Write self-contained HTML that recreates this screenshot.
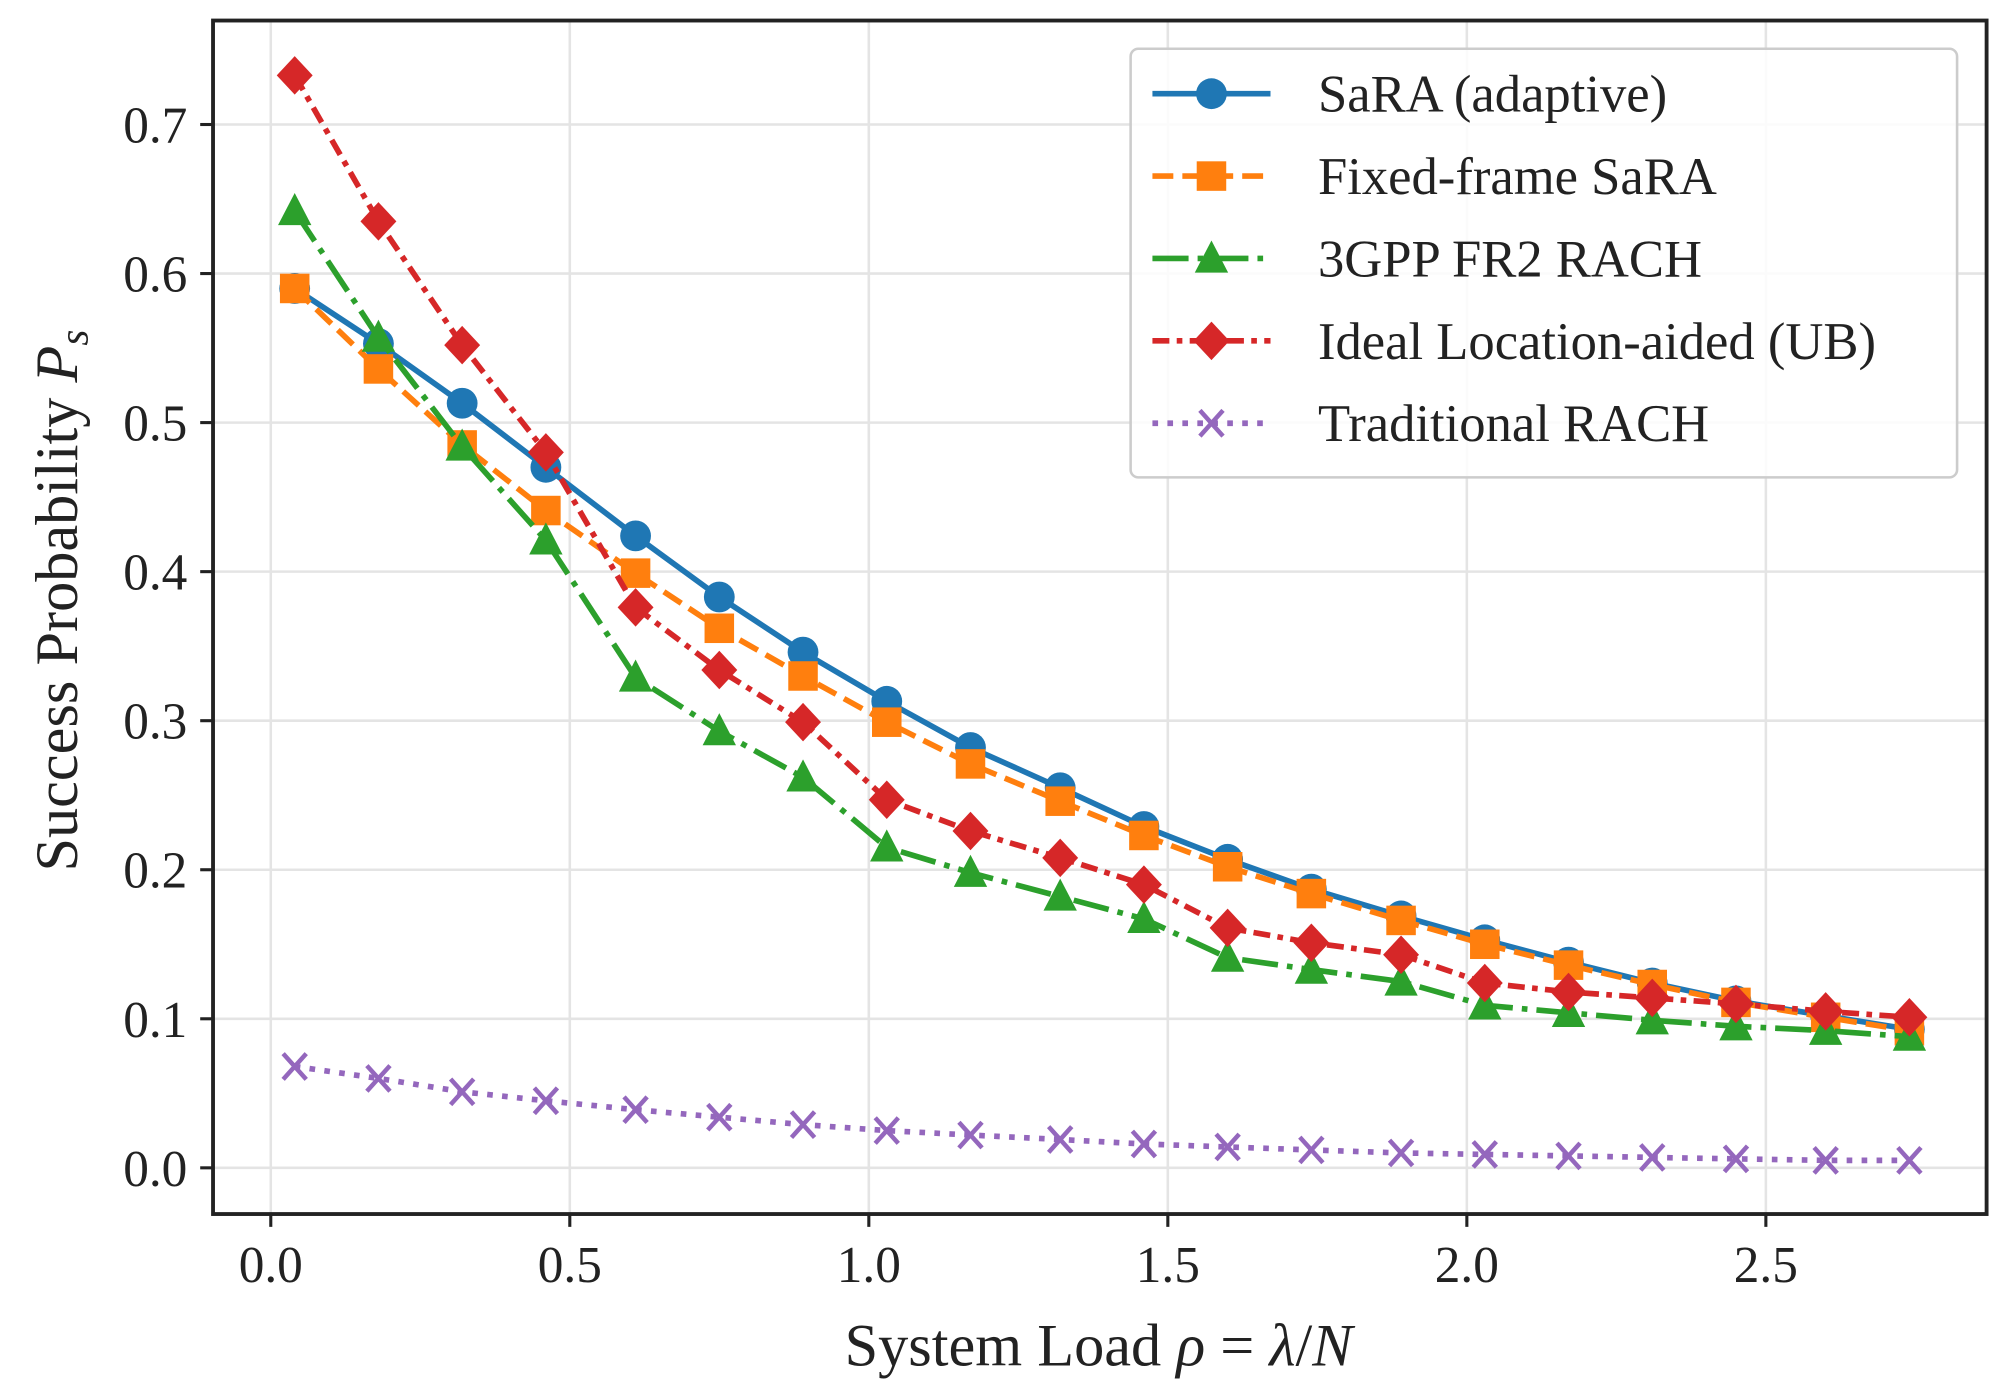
<!DOCTYPE html>
<html><head><meta charset="utf-8"><style>
html,body{margin:0;padding:0;background:#fff;}
svg{display:block;font-family:"Liberation Serif",serif;}
</style></head><body>
<svg id="chart" width="2002" height="1386" viewBox="0 0 1560 1080" xmlns="http://www.w3.org/2000/svg">
<g id="grid"></g>
<g id="series"></g>
<rect x="166" y="16" width="1382" height="930" fill="none" stroke="#222" stroke-width="3"/>
<g id="ticks"></g>
<text x="856" y="1064" font-size="47" text-anchor="middle" fill="#222">System Load <tspan font-style="italic">ρ</tspan> = <tspan font-style="italic">λ</tspan>/<tspan font-style="italic">N</tspan></text>
<text transform="translate(60,468) rotate(-90)" font-size="47" text-anchor="middle" fill="#222">Success Probability <tspan font-style="italic">P</tspan><tspan font-style="italic" font-size="32" dy="8">s</tspan></text>
<g id="legend">
<rect x="881" y="38" width="644" height="334" rx="6" fill="#fff" fill-opacity="0.85" stroke="#ccc" stroke-width="2"/>
</g>
</svg>
<script>
const xValues=[0.04,0.18,0.32,0.46,0.61,0.75,0.89,1.03,1.17,1.32,1.46,1.60,1.74,1.89,2.03,2.17,2.31,2.45,2.60,2.74];
const saraAdaptive=[0.590,0.553,0.513,0.470,0.424,0.383,0.346,0.313,0.282,0.255,0.229,0.207,0.187,0.169,0.153,0.138,0.124,0.112,0.102,0.093];
const fixedFrame=[0.590,0.536,0.485,0.441,0.399,0.362,0.330,0.299,0.271,0.246,0.223,0.202,0.184,0.166,0.150,0.136,0.123,0.111,0.101,0.092];
const fr2Rach=[0.642,0.557,0.484,0.421,0.329,0.293,0.262,0.215,0.198,0.182,0.167,0.141,0.133,0.125,0.109,0.104,0.099,0.095,0.092,0.088];
const idealLoc=[0.733,0.635,0.552,0.480,0.376,0.334,0.299,0.247,0.226,0.208,0.190,0.161,0.151,0.143,0.124,0.118,0.114,0.110,0.105,0.101];
const tradRach=[0.068,0.060,0.051,0.045,0.039,0.034,0.029,0.025,0.022,0.019,0.016,0.014,0.012,0.010,0.009,0.008,0.007,0.006,0.005,0.005];
const xTicks=[0.0,0.5,1.0,1.5,2.0,2.5];
const yTicks=[0.0,0.1,0.2,0.3,0.4,0.5,0.6,0.7];
const xTickLabels=["0.0","0.5","1.0","1.5","2.0","2.5"];
const yTickLabels=["0.0","0.1","0.2","0.3","0.4","0.5","0.6","0.7"];
const legendLabels=["SaRA (adaptive)","Fixed-frame SaRA","3GPP FR2 RACH","Ideal Location-aided (UB)","Traditional RACH"];

const NS="http://www.w3.org/2000/svg";
const X=v=>211+v*466;
const Y=v=>910-v*1161.4;
function mk(tag,attrs,parent){const e=document.createElementNS(NS,tag);for(const k in attrs)e.setAttribute(k,attrs[k]);parent.appendChild(e);return e;}
const grid=document.getElementById('grid'),ticks=document.getElementById('ticks'),ser=document.getElementById('series'),leg=document.getElementById('legend');
xTicks.forEach((t,i)=>{
 const g=mk('line',{x1:X(t),x2:X(t),y1:16,y2:946,stroke:'#e4e4e4','stroke-width':2},grid);
 
 
 const tk=mk('line',{x1:X(t),x2:X(t),y1:946,y2:956,stroke:'#222','stroke-width':2.4},ticks);
 
 
 const tx=mk('text',{x:X(t),y:999,'font-size':40,'text-anchor':'middle',fill:'#222'},ticks);
 tx.textContent=xTickLabels[i];
 
 
});
yTicks.forEach((t,i)=>{
 const g=mk('line',{x1:166,x2:1548,y1:Y(t),y2:Y(t),stroke:'#e4e4e4','stroke-width':2},grid);
 
 
 const tk=mk('line',{x1:156,x2:166,y1:Y(t),y2:Y(t),stroke:'#222','stroke-width':2.4},ticks);
 
 
 const tx=mk('text',{x:146,y:Y(t)+14,'font-size':40,'text-anchor':'end',fill:'#222'},ticks);
 tx.textContent=yTickLabels[i];
 
 
});
const lw=4.4;
const styles=[
 {data:saraAdaptive,color:'#1f77b4',dash:'',marker:'circle',name:'sara-adaptive'},
 {data:fixedFrame,color:'#ff7f0e',dash:(3.7*lw)+','+(1.6*lw),marker:'square',name:'fixed-frame-sara'},
 {data:fr2Rach,color:'#2ca02c',dash:(6.4*lw)+','+(1.6*lw)+','+(1*lw)+','+(1.6*lw),marker:'triangle',name:'3gpp-fr2-rach'},
 {data:idealLoc,color:'#d62728',dash:(3*lw)+','+(1.3*lw)+','+(1*lw)+','+(1.3*lw),marker:'diamond',name:'ideal-location-aided'},
 {data:tradRach,color:'#9467bd',dash:(1*lw)+','+(1.65*lw),marker:'x',name:'traditional-rach'}
];
function marker(type,cx,cy,color,parent,name){
 let e;
 if(type==='circle')e=mk('circle',{cx:cx,cy:cy,r:12,fill:color},parent);
 else if(type==='square')e=mk('rect',{x:cx-11.5,y:cy-11.5,width:23,height:23,fill:color},parent);
 else if(type==='triangle')e=mk('polygon',{points:`${cx},${cy-14} ${cx+13},${cy+11} ${cx-13},${cy+11}`,fill:color},parent);
 else if(type==='diamond')e=mk('polygon',{points:`${cx},${cy-15} ${cx+14},${cy} ${cx},${cy+15} ${cx-14},${cy}`,fill:color},parent);
 else e=mk('path',{d:`M${cx-9},${cy-10}L${cx+9},${cy+10}M${cx-9},${cy+10}L${cx+9},${cy-10}`,stroke:color,'stroke-width':3.5,fill:'none'},parent);
 
 
}
styles.forEach((s,si)=>{
 const g=mk('g',{},ser);
 
 
 const pts=s.data.map((v,i)=>X(xValues[i])+','+Y(v)).join(' ');
 const pl=mk('polyline',{points:pts,fill:'none',stroke:s.color,'stroke-width':lw,'stroke-dasharray':s.dash||'none','stroke-linejoin':'round'},g);
 
 
 s.data.forEach((v,i)=>marker(s.marker,X(xValues[i]),Y(v),s.color,g,s.name+'-point'));
 const ly=73+si*64.2;
 const le=mk('g',{},leg);
 
 
 const ll=mk('line',{x1:898,x2:990,y1:ly,y2:ly,stroke:s.color,'stroke-width':lw,'stroke-dasharray':s.dash||'none'},le);
 
 
 marker(s.marker,944,ly,s.color,le,'legend-marker');
 const t=mk('text',{x:1027,y:ly+14,'font-size':41,fill:'#222'},le);
 t.textContent=legendLabels[si];
 
 
});
</script>
</body></html>
